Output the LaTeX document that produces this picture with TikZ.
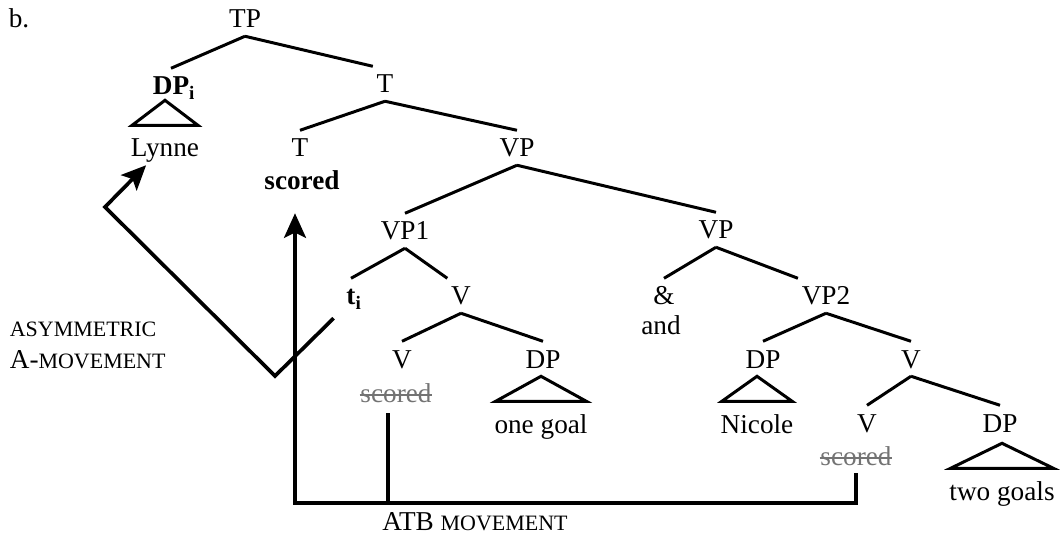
\documentclass[tikz,border=0pt]{standalone}
\usepackage{fontspec}
\setmainfont{Liberation Serif}
\usetikzlibrary{arrows.meta}

% faked small capitals (Liberation Serif has none)
\newcommand{\fakesc}[1]{{\fontsize{12.5}{14}\selectfont #1}}

\tikzset{
    moveline/.style={line width=2.1pt},
    movearrow/.style={moveline,-{Stealth[length=14pt,width=12.5pt,inset=3pt]}},
    struck/.style={text=black!55},
    strike/.style={draw=black!55,line width=0.7pt}
}

\begin{document}
\begin{tikzpicture}[x=0.02cm,y=-0.02cm,font=\fontsize{15.5}{18}\selectfont]
    \useasboundingbox (0,0) rectangle (1060,536);

    \begin{scope}[every node/.style={anchor=base,inner xsep=2pt,inner ysep=4.5pt,
                                     text height=10.5pt,text depth=0pt}]
        \node[anchor=base west] (lbl) at (5,28) {b.};
        \node (tp) at (245,28) {TP};
        \node (dpi) at (171,95) {\textbf{DP}\rlap{\textsubscript{\textbf{i}}}};
        \node (tbar) at (385,93) {T};
        \node (lynne) at (165,157) {Lynne};
        \node (t) at (300,157) {T};
        \node (scored) at (302,190) {\textbf{scored}};
        \node (vp) at (517,157) {VP};
        \node (vp1) at (405,240) {VP1};
        \node (vpc) at (716,239) {VP};
        \node (ti) at (351,305) {\textbf{t}\rlap{\textsubscript{\textbf{i}}}};
        \node (v1) at (461,305) {V};
        \node (amp) at (664,305) {\&};
        \node (and) at (661,335) {and};
        \node (vp2) at (826,305) {VP2};
        \node (v2) at (402,368) {V};
        \node[struck] (s1) at (396,402) {scored};
        \node (dp1) at (543,368) {DP};
        \node (onegoal) at (541,433) {one goal};
        \node (dp2) at (763,368) {DP};
        \node (v3) at (911,368) {V};
        \node (nicole) at (757,433) {Nicole};
        \node (v4) at (867,432) {V};
        \node (dp3) at (1000,432) {DP};
        \node[struck] (s2) at (856,465) {scored};
        \node (twogoals) at (1002,500) {two goals};
        \node (atb) at (475,530) {ATB \fakesc{MOVEMENT}};
        \node[anchor=base west] (asym) at (6,337) {\fakesc{ASYMMETRIC}};
        \node[anchor=base west] (amov) at (6,368) {A-\fakesc{MOVEMENT}};
    \end{scope}

    % struck-out copies of the verb
    \draw[strike] ([shift={(3,-7)}]s1.base west) -- ([shift={(-3,-7)}]s1.base east);
    \draw[strike] ([shift={(3,-7)}]s2.base west) -- ([shift={(-3,-7)}]s2.base east);

    \begin{scope}[every edge/.style={draw=black,line width=1.7pt}]
        \path (tp.south) edge (dpi.north) edge (tbar.north west);
        \path (tbar.south) edge (t.north) edge (vp.north);
        \path (vp.south) edge (vp1.north) edge (vpc.north);
        \path (vp1.south) edge (ti.north) edge (v1.north west);
        \path (v1.south) edge (v2.north) edge (dp1.north);
        \path (vpc.south) edge (amp.north) edge (vp2.north west);
        \path (vp2.south) edge (dp2.north) edge (v3.north);
        \path (v3.south) edge (v4.north) edge (dp3.north);
    \end{scope}

    % triangles
    \begin{scope}[line width=1.7pt]
        \draw ([shift={(0,-30)}]lynne.north) -- ([shift={(5,-5)}]lynne.north west)
            -- ([shift={(-5,-5)}]lynne.north east) -- cycle;
        \draw ([shift={(0,-30)}]onegoal.north) -- ([shift={(5,-5)}]onegoal.north west)
            -- ([shift={(-5,-5)}]onegoal.north east) -- cycle;
        \draw ([shift={(0,-30)}]nicole.north) -- ([shift={(5,-5)}]nicole.north west)
            -- ([shift={(-5,-5)}]nicole.north east) -- cycle;
        \draw ([shift={(0,-30)}]twogoals.north) -- ([shift={(5,-5)}]twogoals.north west)
            -- ([shift={(-5,-5)}]twogoals.north east) -- cycle;
    \end{scope}

    % movement arrows
    \coordinate (corner) at (295,503);
    \coordinate (s1foot) at ([shift={(-8,3)}]s1.south);
    \coordinate (tifoot) at ([shift={(-9,5)}]ti.south west);
    \coordinate (bend1) at (275,376);
    \coordinate (bend2) at (105,207);
    \draw[movearrow] (s2.south) |- (corner) -- ([shift={(-7,15)}]scored.south);
    \draw[moveline] (s1foot) -- (s1foot |- corner);
    \draw[movearrow] (tifoot) -- (bend1) -- (bend2) -- ([shift={(19,0)}]lynne.south west);
\end{tikzpicture}
\end{document}
